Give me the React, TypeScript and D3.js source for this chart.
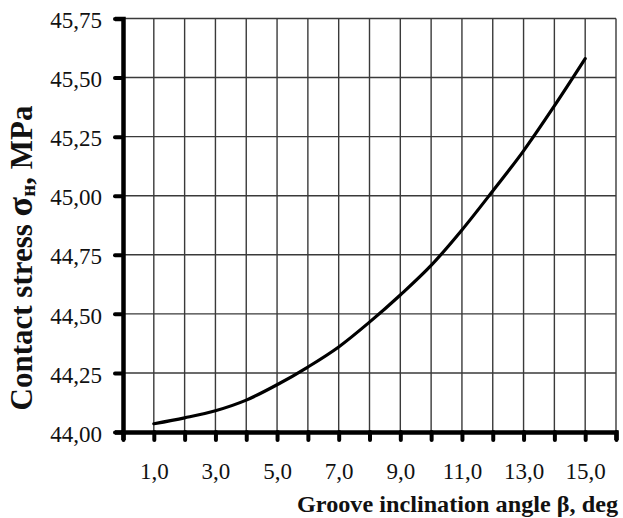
import React, { useEffect, useRef } from "react";
import * as d3 from "d3";

// groove inclination angle, deg
const angles = [1, 2, 3, 4, 5, 6, 7, 8, 9, 10, 11, 12, 13, 14, 15];
// contact stress, MPa
const stress = [44.035, 44.06, 44.09, 44.135, 44.2, 44.275, 44.36, 44.465, 44.58, 44.705, 44.855, 45.02, 45.19, 45.38, 45.58];
const xTicks = [0, 1, 2, 3, 4, 5, 6, 7, 8, 9, 10, 11, 12, 13, 14, 15, 16];
const xLabelTicks = [1, 3, 5, 7, 9, 11, 13, 15];
const yTicks = [44.0, 44.25, 44.5, 44.75, 45.0, 45.25, 45.5, 45.75];

const W = 623;
const H = 518;

const ruLocale = d3.formatLocale({ decimal: ",", thousands: " ", grouping: [3], currency: ["", ""] });

export default function App() {
  const ref = useRef<SVGSVGElement>(null);

  useEffect(() => {
    const svg = d3.select(ref.current);
    svg.selectAll("*").remove();

    const x = d3.scaleLinear().domain([0, 16]).range([123, 616]);
    const y = d3.scaleLinear().domain([44, 45.75]).range([432, 18.5]);

    const font = "'Liberation Serif', 'Times New Roman', serif";

    // grid
    const grid = svg.append("g").attr("stroke", "#3a3a3a").attr("stroke-width", 1.4);
    grid
      .selectAll(".vg")
      .data(xTicks.slice(1))
      .enter()
      .append("line")
      .attr("x1", (d) => x(d))
      .attr("x2", (d) => x(d))
      .attr("y1", y(45.75))
      .attr("y2", y(44));
    grid
      .selectAll(".hg")
      .data(yTicks.slice(1))
      .enter()
      .append("line")
      .attr("x1", x(0))
      .attr("x2", x(16))
      .attr("y1", (d) => y(d))
      .attr("y2", (d) => y(d));

    // curve
    const line = d3
      .line<number>()
      .x((d, i) => x(angles[i]))
      .y((d) => y(d))
      .curve(d3.curveMonotoneX);
    svg
      .append("path")
      .attr("d", line(stress))
      .attr("fill", "none")
      .attr("stroke", "#000")
      .attr("stroke-width", 3.2)
      .attr("stroke-linecap", "round");

    // x axis
    const fmtX = ruLocale.format(".1f");
    const xAxis = d3
      .axisBottom(x)
      .tickValues(xTicks)
      .tickSize(8)
      .tickPadding(23)
      .tickFormat((d) => (xLabelTicks.includes(+d) ? fmtX(+d) : ""));
    const gx = svg.append("g").attr("transform", `translate(0,${y(44)})`).call(xAxis);

    // y axis
    const fmtY = ruLocale.format(".2f");
    const yAxis = d3
      .axisLeft(y)
      .tickValues(yTicks)
      .tickSize(8)
      .tickPadding(13)
      .tickFormat((d) => fmtY(+d));
    const gy = svg.append("g").attr("transform", `translate(${x(0)},0)`).call(yAxis);

    [gx, gy].forEach((g) => {
      g.select(".domain").attr("stroke", "#000").attr("stroke-width", 4.5);
      g.selectAll(".tick line").attr("stroke", "#000").attr("stroke-width", 4).attr("stroke-linecap", "round");
      g.selectAll(".tick text")
        .attr("fill", "#111")
        .style("font-family", font)
        .style("font-size", "23px");
    });
    gy.selectAll(".tick text").attr("dy", "0.4em");

    // axis titles
    svg
      .append("text")
      .attr("x", 618)
      .attr("y", 512)
      .attr("text-anchor", "end")
      .attr("textLength", 321)
      .attr("lengthAdjust", "spacingAndGlyphs")
      .style("font-family", font)
      .style("font-size", "23px")
      .style("font-weight", "bold")
      .attr("fill", "#111")
      .text("Groove inclination angle β, deg");

    const yt = svg
      .append("text")
      .attr("transform", `translate(32,${258}) rotate(-90)`)
      .attr("text-anchor", "middle")
      .style("font-family", font)
      .style("font-size", "31px")
      .style("font-weight", "bold")
      .attr("fill", "#111");
    yt.append("tspan").text("Contact stress ");
    yt.append("tspan").style("font-size", "36px").text("σ");
    yt.append("tspan").style("font-size", "21px").attr("dy", 3).text("н");
    yt.append("tspan").attr("dy", -3).text(", MPa");
  }, []);

  return (
    <svg
      ref={ref}
      width={W}
      height={H}
      style={{ position: "absolute", left: 0, top: 0, background: "#fff" }}
    />
  );
}
